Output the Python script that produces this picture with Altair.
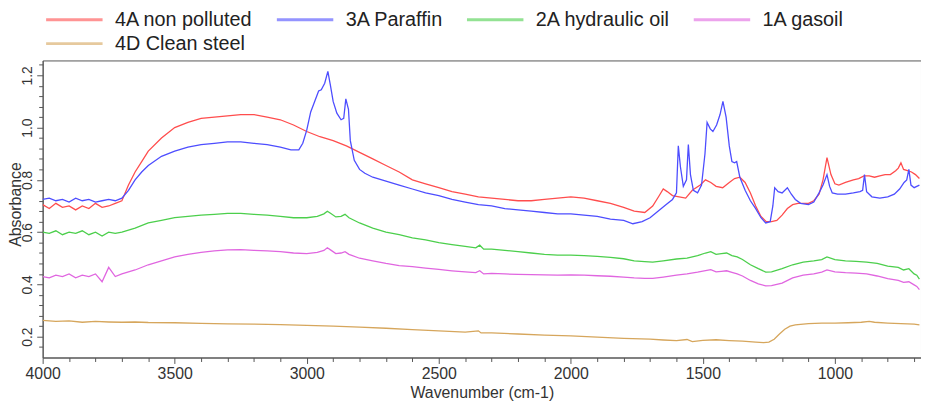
import altair as alt
import pandas as pd

series_names = ["4A non polluted", "3A Paraffin", "2A hydraulic oil", "1A gasoil", "4D Clean steel"]
series_colors = ["#ff4d4d", "#4d4dff", "#4ccf4c", "#e066e0", "#d6a65c"]

noisy_wn = [4000, 3975, 3950, 3925, 3900, 3875, 3850, 3825, 3800, 3775, 3750, 3725]

red_wn = noisy_wn + [3700, 3675, 3650, 3625, 3600, 3550, 3500, 3450, 3400, 3350, 3300, 3250, 3200, 3150,
          3100, 3050, 3000, 2950, 2900, 2850, 2800, 2750, 2700, 2650, 2600, 2550, 2500, 2450, 2400,
          2350, 2300, 2250, 2200, 2150, 2100, 2050, 2000, 1950, 1900, 1850, 1800, 1760, 1720, 1690,
          1665, 1650, 1635, 1615, 1590, 1565, 1540, 1510, 1490, 1470, 1450, 1425, 1400, 1380, 1360,
          1340, 1320, 1300, 1280, 1260, 1240, 1220, 1200, 1180, 1160, 1140, 1120, 1100, 1080, 1060,
          1045, 1030, 1015, 1000, 985, 960, 930, 910, 890, 870, 850, 830, 810, 790, 770, 760, 750,
          740, 725, 710, 695, 680]
red_abs = [0.705, 0.69, 0.71, 0.695, 0.70, 0.685, 0.70, 0.69, 0.71, 0.695, 0.70, 0.71,
           0.72, 0.78, 0.83, 0.87, 0.91, 0.96, 1.00, 1.02, 1.035, 1.04, 1.045, 1.05, 1.05, 1.04,
           1.03, 1.01, 0.985, 0.965, 0.95, 0.93, 0.905, 0.88, 0.855, 0.83, 0.80, 0.785, 0.77, 0.755, 0.745,
           0.735, 0.73, 0.725, 0.72, 0.72, 0.725, 0.73, 0.735, 0.73, 0.72, 0.71, 0.695, 0.68, 0.675, 0.70,
           0.74, 0.765, 0.755, 0.74, 0.735, 0.73, 0.76, 0.78, 0.80, 0.79, 0.775, 0.77, 0.79, 0.805, 0.81,
           0.79, 0.75, 0.70, 0.66, 0.64, 0.64, 0.645, 0.665, 0.69, 0.705, 0.71, 0.71, 0.71, 0.72, 0.745,
           0.80, 0.885, 0.82, 0.785, 0.78, 0.79, 0.80, 0.805, 0.815, 0.815, 0.81, 0.815, 0.82, 0.82, 0.835, 0.845, 0.865,
           0.84, 0.835, 0.83, 0.82, 0.805]

blue_wn = noisy_wn + [3700, 3675, 3650, 3625, 3600, 3550, 3500, 3450, 3400, 3350, 3300, 3250, 3200, 3150,
           3100, 3060, 3030, 3015, 3000, 2985, 2970, 2955, 2945, 2932, 2920, 2910, 2900, 2886, 2870,
           2860, 2852, 2842, 2835, 2820, 2800, 2780, 2750, 2700, 2650, 2600, 2550, 2500, 2450, 2400,
           2350, 2300, 2250, 2200, 2150, 2100, 2050, 2000, 1950, 1900, 1850, 1800, 1765, 1730, 1700,
           1670, 1640, 1615, 1600, 1593, 1585, 1574, 1562, 1555, 1547, 1536, 1520, 1505, 1492, 1484,
           1472, 1462, 1448, 1435, 1424, 1412, 1400, 1390, 1380, 1372, 1360, 1340, 1320, 1300, 1280,
           1262, 1245, 1235, 1228, 1215, 1200, 1180, 1165, 1150, 1130, 1100, 1080, 1060, 1045, 1030,
           1020, 1010, 990, 960, 930, 905, 895, 888, 880, 860, 830, 800, 775, 755, 738, 728, 720, 712,
           700, 690, 680]
blue_abs = [0.725, 0.73, 0.72, 0.725, 0.715, 0.73, 0.72, 0.725, 0.715, 0.72, 0.725, 0.72,
            0.73, 0.76, 0.80, 0.83, 0.855, 0.89, 0.91, 0.925, 0.935, 0.94, 0.945, 0.945, 0.94, 0.935,
            0.925, 0.915, 0.915, 0.94, 0.99, 1.06, 1.10, 1.14, 1.145, 1.17, 1.215, 1.16, 1.10, 1.055, 1.03,
            1.035, 1.11, 1.07, 0.95, 0.875, 0.84, 0.825, 0.81, 0.795, 0.78, 0.765, 0.75, 0.74, 0.725, 0.715,
            0.705, 0.70, 0.69, 0.685, 0.68, 0.675, 0.67, 0.67, 0.665, 0.66, 0.65, 0.645, 0.632, 0.64, 0.655,
            0.68, 0.705, 0.725, 0.75, 0.93, 0.85, 0.775, 0.80, 0.935, 0.82, 0.76, 0.75, 0.78, 0.90, 1.02,
            0.995, 0.985, 1.01, 1.05, 1.10, 1.04, 0.93, 0.87, 0.865, 0.87, 0.81, 0.76, 0.72, 0.69, 0.655,
            0.635, 0.64, 0.70, 0.77, 0.755, 0.75, 0.77, 0.745, 0.725, 0.71, 0.705, 0.715, 0.75, 0.78, 0.82,
            0.775, 0.75, 0.745, 0.745, 0.75, 0.755, 0.76, 0.82, 0.755, 0.735, 0.73, 0.735, 0.745, 0.765, 0.79, 0.80, 0.84, 0.78,
            0.77, 0.775, 0.78]

mid_wn = noisy_wn + [3700, 3650, 3600, 3550, 3500, 3450, 3400, 3350, 3300, 3250, 3200, 3150, 3100, 3050,
          3000, 2960, 2935, 2922, 2910, 2890, 2870, 2855, 2840, 2800, 2750, 2700, 2650, 2600, 2550,
          2500, 2450, 2400, 2360, 2345, 2330, 2300, 2250, 2200, 2150, 2100, 2050, 2000, 1950, 1900,
          1850, 1800, 1760, 1720, 1690, 1650, 1600, 1560, 1520, 1490, 1470, 1450, 1430, 1410, 1390,
          1370, 1350, 1320, 1290, 1262, 1240, 1200, 1160, 1120, 1080, 1050, 1030, 1000, 960, 920,
          880, 840, 800, 760, 740, 720, 700, 690, 680]
green_abs = [0.60, 0.595, 0.605, 0.59, 0.60, 0.595, 0.605, 0.59, 0.60, 0.585, 0.60, 0.595,
             0.60, 0.615, 0.635, 0.645, 0.655, 0.66, 0.665, 0.668, 0.672, 0.672, 0.668, 0.665, 0.66, 0.655,
             0.655, 0.66, 0.67, 0.68, 0.672, 0.658, 0.66, 0.668, 0.655, 0.635, 0.615, 0.60, 0.59, 0.578, 0.57,
             0.56, 0.552, 0.545, 0.54, 0.55, 0.535, 0.535, 0.53, 0.525, 0.52, 0.515, 0.512, 0.512, 0.51, 0.507,
             0.503, 0.498, 0.49, 0.487, 0.485, 0.49, 0.497, 0.50, 0.51, 0.52, 0.525, 0.515, 0.518, 0.52, 0.51,
             0.505, 0.495, 0.475, 0.46, 0.447, 0.448, 0.46, 0.475, 0.485, 0.49, 0.495, 0.505, 0.495, 0.49, 0.488,
             0.485, 0.48, 0.47, 0.465, 0.455, 0.46, 0.44, 0.435, 0.42]
pink_abs = [0.43, 0.425, 0.435, 0.43, 0.44, 0.425, 0.435, 0.43, 0.44, 0.41, 0.465, 0.43,
            0.44, 0.455, 0.475, 0.49, 0.505, 0.515, 0.522, 0.528, 0.532, 0.533, 0.53, 0.528, 0.525, 0.52,
            0.518, 0.522, 0.53, 0.54, 0.532, 0.518, 0.52, 0.525, 0.515, 0.50, 0.49, 0.48, 0.472, 0.468, 0.462,
            0.457, 0.452, 0.448, 0.445, 0.452, 0.44, 0.442, 0.44, 0.438, 0.437, 0.436, 0.435, 0.436, 0.435, 0.433,
            0.431, 0.428, 0.425, 0.423, 0.423, 0.428, 0.435, 0.44, 0.447, 0.453, 0.456, 0.448, 0.45, 0.452, 0.446,
            0.44, 0.432, 0.415, 0.402, 0.394, 0.395, 0.405, 0.425, 0.435, 0.44, 0.447, 0.455, 0.448, 0.445, 0.443,
            0.44, 0.432, 0.422, 0.415, 0.408, 0.41, 0.398, 0.392, 0.38]

tan_wn = [4000, 3950, 3900, 3850, 3800, 3750, 3700, 3650, 3600, 3500, 3400, 3300, 3200, 3100, 3000,
          2900, 2800, 2700, 2600, 2500, 2400, 2350, 2340, 2300, 2200, 2100, 2000, 1900, 1800, 1700,
          1650, 1600, 1560, 1540, 1500, 1450, 1400, 1350, 1300, 1270, 1250, 1230, 1210, 1190, 1170,
          1150, 1100, 1050, 1000, 950, 900, 870, 850, 800, 750, 700, 680]
tan_abs = [0.262, 0.258, 0.26, 0.255, 0.258, 0.256, 0.255, 0.256, 0.254, 0.253, 0.251, 0.249, 0.248,
           0.246, 0.243, 0.24, 0.236, 0.232, 0.227, 0.222, 0.217, 0.222, 0.214, 0.214, 0.21, 0.206, 0.203,
           0.198, 0.193, 0.19, 0.187, 0.185, 0.189, 0.181, 0.186, 0.188, 0.185, 0.183, 0.179, 0.177, 0.179,
           0.19, 0.21, 0.228, 0.24, 0.245, 0.25, 0.252, 0.252, 0.253, 0.255, 0.258, 0.255, 0.252, 0.25,
           0.248, 0.245]

x_ticks = [4000, 3900, 3800, 3700, 3600, 3500, 3400, 3300, 3200, 3100, 3000, 2900, 2800, 2700, 2600,
           2500, 2400, 2300, 2200, 2100, 2000, 1900, 1800, 1700, 1600, 1500, 1400, 1300, 1200, 1100,
           1000, 900, 800, 700]
y_ticks = [0.16, 0.2, 0.24, 0.28, 0.32, 0.36, 0.4, 0.44, 0.48, 0.52, 0.56, 0.6, 0.64, 0.68, 0.72,
           0.76, 0.8, 0.84, 0.88, 0.92, 0.96, 1.0, 1.04, 1.08, 1.12, 1.16, 1.2, 1.24]

rows = []
for name, wns, vals in [(series_names[0], red_wn, red_abs), (series_names[1], blue_wn, blue_abs),
                        (series_names[2], mid_wn, green_abs), (series_names[3], mid_wn, pink_abs),
                        (series_names[4], tan_wn, tan_abs)]:
    assert len(wns) == len(vals), (name, len(wns), len(vals))
    for w, v in zip(wns, vals):
        rows.append({"wn": w, "absorbance": v, "series": name})
df = pd.DataFrame(rows)

x_axis = alt.Axis(
    values=x_ticks, format="d", title="Wavenumber (cm-1)",
    labelExpr="datum.value % 500 == 0 ? datum.label : ''",
    labelFlush=False, labelOverlap=False, labelFontSize=16, labelColor="#333",
    titleFontSize=16, titleFontWeight="normal", titleColor="#333", titlePadding=3,
    tickSize={"condition": {"test": "datum.value % 500 == 0", "value": 6}, "value": 4},
    tickColor="#555", domainColor="#555", grid=False, labelPadding=2,
)
y_axis = alt.Axis(
    values=y_ticks, format=".1f", title="Absorbance",
    labelExpr="abs(datum.value * 5 - round(datum.value * 5)) < 0.001 ? datum.label : ''",
    labelAngle=-90, labelAlign="center", labelBaseline="bottom",
    labelFlush=False, labelOverlap=False, labelFontSize=14, labelColor="#333",
    titleFontSize=16, titleFontWeight="normal", titleColor="#333",
    titleX=-19, titleY=145,
    tickSize={"condition": {"test": "abs(datum.value * 5 - round(datum.value * 5)) < 0.001", "value": 6}, "value": 4},
    tickColor="#555", domainColor="#555", grid=False, labelPadding=2,
)

chart = alt.Chart(df).mark_line(strokeWidth=1.3, clip=True).encode(
    x=alt.X("wn:Q", scale=alt.Scale(domain=[674, 4000], reverse=True, nice=False, zero=False), axis=x_axis),
    y=alt.Y("absorbance:Q", scale=alt.Scale(domain=[0.12, 1.257], nice=False, zero=False), axis=y_axis),
    color=alt.Color("series:N", scale=alt.Scale(domain=series_names, range=series_colors),
                    legend=alt.Legend(orient="none", legendX=2, legendY=-51, direction="horizontal",
                                      columns=4, symbolType="stroke", symbolSize=3249,
                                      symbolStrokeWidth=3, symbolOpacity=0.6, clipHeight=20,
                                      labelFontSize=20, labelColor="#222", labelOffset=11,
                                      columnPadding=22, rowPadding=4, title=None, padding=0,
                                      labelLimit=400)),
).properties(
    width=887, height=300,
    autosize=alt.AutoSizeParams(type="none"),
    padding={"left": 35, "top": 51, "right": 0, "bottom": 47},
).configure(font="Liberation Sans").configure_view(stroke="#555", strokeWidth=1)

chart.save("out.html", embed_options={"renderer": "svg", "actions": False})
